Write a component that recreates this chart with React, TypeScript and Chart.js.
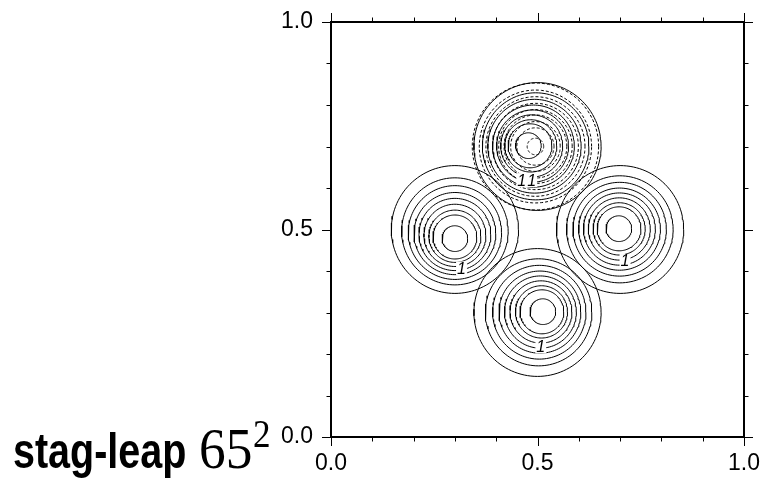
import React, { useEffect, useRef } from 'react';
import { Chart, registerables } from 'chart.js';

Chart.register(...registerables);

// Axis
const axisMin = 0;
const axisMax = 1;
const tickStep = 0.1;
const majorTickLabels = ['0.0', '0.5', '1.0'];

// Bumps (top, left, right, bottom): centre of outer ring and of inner ring
const outerCenterX = [0.5, 0.3, 0.7, 0.5];
const outerCenterY = [0.7, 0.5, 0.5, 0.3];
const innerCenterX = [0.478, 0.3, 0.697, 0.513];
const innerCenterY = [0.702, 0.478, 0.502, 0.302];
// Solid contour ring radii (data units)
const ringRadii = [0.154, 0.129, 0.113, 0.099, 0.087, 0.075, 0.063, 0.053, 0.031];

// Dashed contours of the top bump
const dashedCenterX = 0.495;
const dashedCenterY = 0.7;
const dashedRadii = [0.153, 0.136, 0.12, 0.104, 0.089, 0.076, 0.06, 0.045, 0.02];

// Contour labels
const labelText = ['1', '1', '1', '1', '1'];
const labelX = [0.462, 0.486, 0.316, 0.712, 0.508];
const labelY = [0.619, 0.619, 0.406, 0.424, 0.218];

const SEG = 120;

function ring(cx: number, cy: number, r: number) {
  const pts: { x: number; y: number }[] = [];
  for (let i = 0; i <= SEG; i++) {
    const a = (i / SEG) * Math.PI * 2;
    pts.push({ x: cx + r * Math.cos(a), y: cy + r * Math.sin(a) });
  }
  return pts;
}

function buildDatasets() {
  const ds: any[] = [];
  const rMax = Math.max(...ringRadii);
  const rMin = Math.min(...ringRadii);
  outerCenterX.forEach((ox, b) => {
    const oy = outerCenterY[b];
    ringRadii.forEach((r) => {
      const f = (rMax - r) / (rMax - rMin);
      const cx = ox + (innerCenterX[b] - ox) * f;
      const cy = oy + (innerCenterY[b] - oy) * f;
      ds.push({
        data: ring(cx, cy, r),
        showLine: true,
        pointRadius: 0,
        borderColor: '#000',
        borderWidth: 1,
        fill: false,
        tension: 0,
      });
    });
  });
  dashedRadii.forEach((r) => {
    ds.push({
      data: ring(dashedCenterX, dashedCenterY, r),
      showLine: true,
      pointRadius: 0,
      borderColor: '#000',
      borderWidth: 1,
      borderDash: [3, 2],
      fill: false,
      tension: 0,
    });
  });
  return ds;
}

const framePlugin = {
  id: 'frameTicks',
  afterDatasetsDraw(chart: any) {
    const { ctx, chartArea: a, scales } = chart;
    const x = scales.x;
    const y = scales.y;
    ctx.save();
    // contour labels
    ctx.font = 'italic 16px "Liberation Sans", Arial, sans-serif';
    ctx.textAlign = 'center';
    ctx.textBaseline = 'middle';
    labelX.forEach((lx, i) => {
      const px = x.getPixelForValue(lx);
      const py = y.getPixelForValue(labelY[i]);
      const w = ctx.measureText(labelText[i]).width;
      ctx.fillStyle = '#fff';
      ctx.fillRect(px - w / 2 - 1, py - 7, w + 2, 14);
      ctx.fillStyle = '#000';
      ctx.fillText(labelText[i], px, py + 1);
    });
    // frame
    ctx.strokeStyle = '#000';
    ctx.lineWidth = 2;
    ctx.strokeRect(a.left, a.top, a.right - a.left, a.bottom - a.top);
    // ticks on all four sides
    ctx.lineWidth = 1;
    ctx.beginPath();
    x.ticks.forEach((t: any) => {
      const len = t.label ? 9 : 4.5;
      const px = Math.round(x.getPixelForValue(t.value)) + 0.5;
      ctx.moveTo(px, a.bottom);
      ctx.lineTo(px, a.bottom + len);
      ctx.moveTo(px, a.top);
      ctx.lineTo(px, a.top - len);
    });
    y.ticks.forEach((t: any) => {
      const len = t.label ? 9 : 4.5;
      const py = Math.round(y.getPixelForValue(t.value)) + 0.5;
      ctx.moveTo(a.left, py);
      ctx.lineTo(a.left - len, py);
      ctx.moveTo(a.right, py);
      ctx.lineTo(a.right + len, py);
    });
    ctx.stroke();
    ctx.restore();
  },
};

function tickLabel(v: number) {
  const k = Math.round(v / tickStep);
  if (k % 5 !== 0) return '';
  return majorTickLabels[k / 5] ?? '';
}

export default function App() {
  const ref = useRef<HTMLCanvasElement>(null);
  useEffect(() => {
    if (!ref.current) return;
    const tickFont = { family: '"Liberation Sans", Arial, sans-serif', size: 23 };
    const chart = new Chart(ref.current, {
      type: 'scatter',
      data: { datasets: buildDatasets() },
      options: {
        responsive: false,
        animation: false,
        events: [],
        layout: { padding: { top: 22, right: 21, bottom: 0, left: 0 } },
        plugins: { legend: { display: false }, tooltip: { enabled: false }, title: { display: false } },
        scales: {
          x: {
            type: 'linear',
            min: axisMin,
            max: axisMax,
            grid: { display: false, drawTicks: false },
            border: { display: false },
            ticks: {
              stepSize: tickStep,
              autoSkip: false,
              maxRotation: 0,
              padding: 13,
              color: '#000',
              font: tickFont,
              callback: (v: any) => tickLabel(Number(v)),
            },
            afterFit: (s: any) => {
              s.height = 44;
              s.paddingLeft = 0;
              s.paddingRight = 0;
            },
          },
          y: {
            type: 'linear',
            min: axisMin,
            max: axisMax,
            grid: { display: false, drawTicks: false },
            border: { display: false },
            ticks: {
              stepSize: tickStep,
              autoSkip: false,
              padding: 18,
              color: '#000',
              font: tickFont,
              callback: (v: any) => tickLabel(Number(v)),
            },
            afterFit: (s: any) => {
              s.width = 331;
              s.paddingTop = 0;
              s.paddingBottom = 0;
            },
          },
        },
      },
      plugins: [framePlugin],
    });
    return () => chart.destroy();
  }, []);

  return (
    <div style={{ position: 'absolute', left: 0, top: 0, width: 765, height: 481, background: '#fff', overflow: 'hidden' }}>
      <canvas ref={ref} width={765} height={481} style={{ position: 'absolute', left: 0, top: 0 }} />
      <span
        style={{
          position: 'absolute', left: 13, top: 426, fontFamily: '"Liberation Sans", Arial, sans-serif',
          fontWeight: 'bold', fontSize: 50, lineHeight: 1, whiteSpace: 'nowrap',
          transform: 'scaleX(0.79)', transformOrigin: 'left top', color: '#000',
        }}
      >
        stag-leap
      </span>
      <span
        style={{
          position: 'absolute', left: 199, top: 420, fontFamily: '"Liberation Serif", "DejaVu Serif", serif',
          fontSize: 58, lineHeight: 1, whiteSpace: 'nowrap',
          transform: 'scaleX(0.92)', transformOrigin: 'left top', color: '#000',
        }}
      >
        65
      </span>
      <span
        style={{
          position: 'absolute', left: 253, top: 414, fontFamily: '"Liberation Serif", "DejaVu Serif", serif',
          fontSize: 39, lineHeight: 1, whiteSpace: 'nowrap',
          transform: 'scaleX(0.9)', transformOrigin: 'left top', color: '#000',
        }}
      >
        2
      </span>
    </div>
  );
}
